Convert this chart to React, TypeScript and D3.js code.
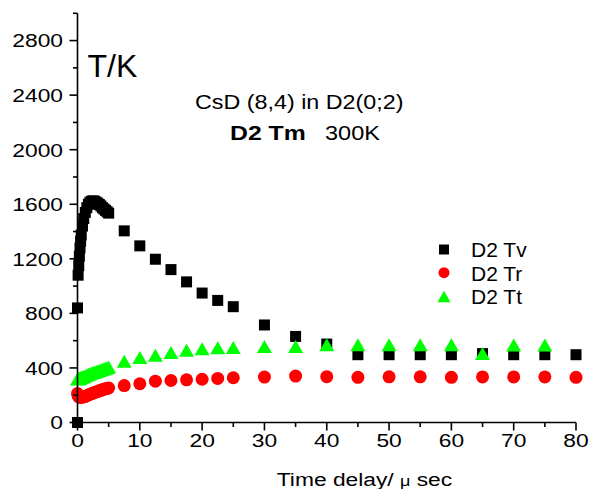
import React from 'react';
import { scaleLinear, range } from 'd3';

// time points (µs)
const earlyTimes = [0, 0.1, 0.2, 0.3, 0.4, 0.5, 0.6, 0.8, 1.0, 1.25, 1.5, 1.75, 2.0, 2.25, 2.5, 2.75, 3.0, 3.25, 3.5, 3.75, 4.0, 4.25, 4.5, 4.75, 5];
const lateTimes = [7.5, 10, 12.5, 15, 17.5, 20, 22.5, 25, 30, 35, 40, 45, 50, 55, 60, 65, 70, 75, 80];

// D2 Tv (first point at t=0 is the extra 0 K value)
const tvTimes = [0, ...earlyTimes, ...lateTimes];
const tvValues = [
  0, 840, 1080, 1150, 1220, 1280, 1330, 1375, 1440, 1495, 1540, 1575, 1600, 1615, 1622, 1625,
  1622, 1615, 1608, 1598, 1588, 1575, 1565, 1555, 1545, 1535,
  1405, 1295, 1197, 1121, 1031, 949, 895, 849, 715, 631, 575, 497, 497, 497, 497, 505, 497, 497, 497,
];

// D2 Tr
const trTimes = [...earlyTimes, ...lateTimes];
const trValues = [
  212, 195, 190, 187, 186, 185, 185, 186, 188, 192, 197, 202, 207, 211, 216, 220, 224, 228, 232,
  236, 240, 244, 247, 250, 253,
  271, 284, 303, 308, 313, 317, 323, 328, 333, 340, 336, 331, 335, 335, 331, 334, 334, 334, 331,
];

// D2 Tt (no point at 80)
const ttTimes = [...earlyTimes, 7.5, 10, 12.5, 15, 17.5, 20, 22.5, 25, 30, 35, 40, 45, 50, 55, 60, 65, 70, 75];
const ttValues = [
  318, 320, 322, 324, 326, 328, 330, 334, 338, 343, 348, 353, 358, 362, 366, 370, 374, 378, 382,
  386, 390, 394, 398, 402, 406,
  449, 477, 493, 513, 530, 540, 548, 550, 557, 557, 570, 570, 570, 570, 570, 506, 568, 568,
];

const xMajor = [0, 10, 20, 30, 40, 50, 60, 70, 80];
const yMajor = [0, 400, 800, 1200, 1600, 2000, 2400, 2800];

const font = '"Liberation Sans", Arial, sans-serif';

const x = scaleLinear().domain([0, 80]).range([77.5, 576]);
const y = scaleLinear().domain([0, 3000]).range([422.5, 13.3]);

const tri = (cx: number, cy: number, w: number, h: number) =>
  `M${cx - w / 2},${cy + h / 2}L${cx + w / 2},${cy + h / 2}L${cx},${cy - h / 2}Z`;

const App = () => {
  const xMinor = range(0, 81, 5).filter(d => d % 10 !== 0);
  const yMinor = range(200, 3001, 400);
  return (
    <svg width={591} height={489} style={{ position: 'absolute', left: 0, top: 0, background: '#fff' }}>
      {/* data */}
      {tvTimes.map((t, i) => (
        <rect key={'v' + i} x={x(t) - 5.5} y={y(tvValues[i]) - 5.5} width={11} height={11} fill="#000" />
      ))}
      {trTimes.map((t, i) => (
        <circle key={'r' + i} cx={x(t)} cy={y(trValues[i])} r={6.5} fill="#ff0000" />
      ))}
      {ttTimes.map((t, i) => (
        <path key={'t' + i} d={tri(x(t), y(ttValues[i]), 15, 13)} fill="#00ff00" />
      ))}

      {/* axes */}
      <g stroke="#000" strokeWidth={1.6} fill="none">
        <line x1={x(0)} x2={x(0)} y1={y(3000)} y2={y(0)} />
        <line x1={x(0)} x2={x(80)} y1={y(0)} y2={y(0)} />
        {yMajor.map(d => <line key={'ym' + d} x1={x(0) - 8} x2={x(0)} y1={y(d)} y2={y(d)} />)}
        {yMinor.map(d => <line key={'yn' + d} x1={x(0) - 4.5} x2={x(0)} y1={y(d)} y2={y(d)} />)}
        {xMajor.map(d => <line key={'xm' + d} x1={x(d)} x2={x(d)} y1={y(0)} y2={y(0) + 8} />)}
        {xMinor.map(d => <line key={'xn' + d} x1={x(d)} x2={x(d)} y1={y(0)} y2={y(0) + 4.5} />)}
      </g>
      <g fontFamily={font} fontSize={19} fill="#000">
        {yMajor.map(d => (
          <g key={'yl' + d} transform={`translate(63,${y(d) + 6.8}) scale(1.2,1)`}>
            <text textAnchor="end">{d}</text>
          </g>
        ))}
        {xMajor.map(d => (
          <g key={'xl' + d} transform={`translate(${x(d)},447) scale(1.2,1)`}>
            <text textAnchor="middle">{d}</text>
          </g>
        ))}
        <g transform="translate(364.5,486) scale(1.2,1)">
          <text textAnchor="middle">
            Time delay/ <tspan fontSize={15}>μ</tspan> sec
          </text>
        </g>
      </g>

      {/* annotations */}
      <text x={87.5} y={76.5} fontFamily={font} fontSize={32}>T/K</text>
      <g transform="translate(195,109) scale(1.11,1)">
        <text fontFamily={font} fontSize={21}>CsD (8,4) in D2(0;2)</text>
      </g>
      <g transform="translate(230,140) scale(1.18,1)">
        <text fontFamily={font} fontSize={21} fontWeight="bold">D2 Tm</text>
      </g>
      <g transform="translate(325,140) scale(1.12,1)">
        <text fontFamily={font} fontSize={21}>300K</text>
      </g>

      {/* legend */}
      <rect x={439} y={244.5} width={10} height={10} fill="#000" />
      <circle cx={444} cy={272.7} r={5.5} fill="#ff0000" />
      <path d={tri(444, 296.5, 13, 11.7)} fill="#00ff00" />
      <g fontFamily={font} fontSize={21}>
        <text x={471} y={257}>D2 Tv</text>
        <text x={471} y={280.5}>D2 Tr</text>
        <text x={471} y={304}>D2 Tt</text>
      </g>
    </svg>
  );
};

export default App;
